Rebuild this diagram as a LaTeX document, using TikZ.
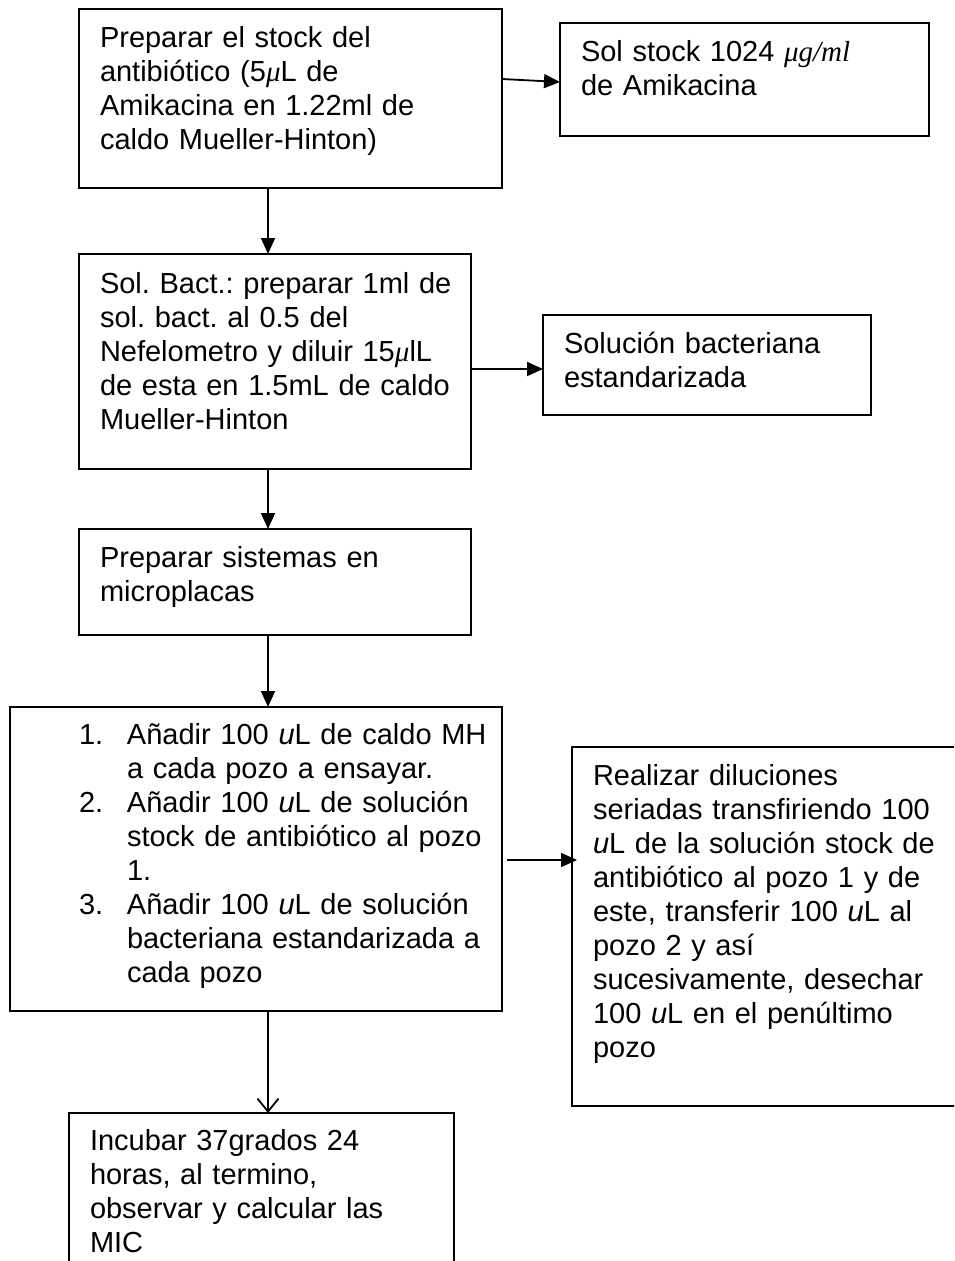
\documentclass[tikz,border=0pt]{standalone}
\usepackage{fontspec}
\setmainfont{Liberation Sans}
\newfontfamily\serifmath{Liberation Serif}
\newcommand{\mathitx}[1]{{\serifmath\itshape #1}}
\usetikzlibrary{arrows.meta,calc}
\frenchspacing
\begin{document}
\begin{tikzpicture}[x=1pt,y=-1pt,
  box/.style={draw, line width=1.3pt, inner sep=0pt, outer sep=0pt, anchor=north west},
  txt/.style={anchor=base west, inner sep=0pt, outer sep=0pt, align=left, text width=#1,
              font=\fontsize{29}{34}\selectfont\frenchspacing},
  txt/.default=420pt,
  arr/.style={line width=1.8pt, -{Triangle[length=16pt,width=14pt]}},
  openarr/.style={line width=1.8pt, -{Straight Barb[length=13pt,width=21pt]}}]
\useasboundingbox (0,0) rectangle (954,1261);
\clip (0,0) rectangle (954,1261);

% boxes
\node[box, minimum width=423pt, minimum height=179pt] (A) at (79,9) {};
\node[box, minimum width=369pt, minimum height=113pt] (B) at (560,23) {};
\node[box, minimum width=392pt, minimum height=215pt] (C) at (79,254) {};
\node[box, minimum width=328pt, minimum height=100pt] (D) at (543,315) {};
\node[box, minimum width=392pt, minimum height=106pt] (E) at (79,529) {};
\node[box, minimum width=492pt, minimum height=304pt] (F) at (10,707) {};
\node[box, minimum width=400pt, minimum height=359pt] (G) at (572,747) {};
\node[box, minimum width=385pt, minimum height=170pt] (H) at (69,1113) {};

% texts
\node[txt] (tA) at (100,47) {Preparar el stock del\\
antibiótico (5\mathitx{μ}L de\\
Amikacina en 1.22ml de\\
caldo Mueller-Hinton)};
\node[txt] (tB) at (581,61) {Sol stock 1024 \mathitx{μg/ml}\\
de Amikacina};
\node[txt] (tC) at (100,293) {Sol. Bact.: preparar 1ml de\\
sol. bact. al 0.5 del\\
Nefelometro y diluir 15\mathitx{μ}lL\\
de esta en 1.5mL de caldo\\
Mueller-Hinton};
\node[txt] (tD) at (564,353) {Solución bacteriana\\
estandarizada};
\node[txt] (tE) at (100,567) {Preparar sistemas en\\
microplacas};
\node[txt=480pt] (tF) at (79,744) {\makebox[48pt][l]{1.}Añadir 100 \textit{u}L de caldo MH\\
\hspace*{48pt}a cada pozo a ensayar.\\
\makebox[48pt][l]{2.}Añadir 100 \textit{u}L de solución\\
\hspace*{48pt}stock de antibiótico al pozo\\
\hspace*{48pt}1.\\
\makebox[48pt][l]{3.}Añadir 100 \textit{u}L de solución\\
\hspace*{48pt}bacteriana estandarizada a\\
\hspace*{48pt}cada pozo};
\node[txt=370pt] (tG) at (593,785) {Realizar diluciones\\
seriadas transfiriendo 100\\
\textit{u}L de la solución stock de\\
antibiótico al pozo 1 y de\\
este, transferir 100 \textit{u}L al\\
pozo 2 y así\\
sucesivamente, desechar\\
100 \textit{u}L en el penúltimo\\
pozo};
\node[txt] (tH) at (90,1150) {Incubar 37grados 24\\
horas, al termino,\\
observar y calcular las\\
MIC};

% connectors
\draw[arr] ($(A.north east)+(0,70)$) -- ($(B.north west)+(0,59)$);
\draw[arr] ($(A.south west)+(189,0)$) -- ($(C.north west)+(189,0)$);
\draw[arr] ($(C.north east)+(0,115)$) -- ($(D.north west)+(0,54)$);
\draw[arr] ($(C.south west)+(189,0)$) -- ($(E.north west)+(189,0)$);
\draw[arr] ($(E.south west)+(189,0)$) -- ($(F.north west)+(258,0)$);
\draw[arr] ($(F.north east)+(5,153)$) -- ($(G.north west)+(5,113)$);
\draw[openarr] ($(F.south west)+(258,0)$) -- ($(H.north west)+(199,0)$);
\end{tikzpicture}
\end{document}
